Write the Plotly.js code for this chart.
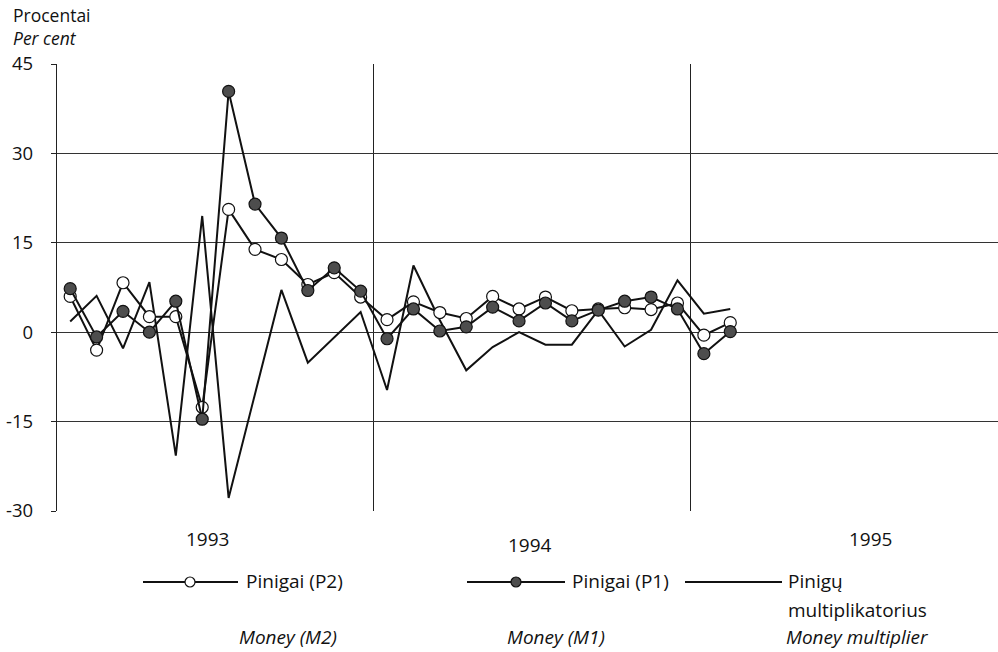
<!DOCTYPE html>
<html>
<head>
<meta charset="utf-8">
<script src="https://cdn.plot.ly/plotly-3.0.1.min.js"></script>
<style>
html,body{margin:0;padding:0;background:#fff;}
#chart{width:998px;height:652px;}
</style>
</head>
<body>
<div id="chart"></div>
<script>
// Monthly data, January 1993 – February 1995 (per cent)
var months = ['1993-01','1993-02','1993-03','1993-04','1993-05','1993-06','1993-07','1993-08','1993-09','1993-10','1993-11','1993-12',
              '1994-01','1994-02','1994-03','1994-04','1994-05','1994-06','1994-07','1994-08','1994-09','1994-10','1994-11','1994-12',
              '1995-01','1995-02'];
var moneyM2 = [6.0, -3.0, 8.3, 2.6, 2.6, -12.6, 20.6, 13.9, 12.2, 8.0, 10.0, 5.9,
               2.1, 5.1, 3.3, 2.3, 6.0, 3.9, 5.9, 3.6, 3.9, 4.1, 3.8, 4.9,
               -0.5, 1.6];
var moneyM1 = [7.3, -0.8, 3.5, 0.0, 5.2, -14.6, 40.4, 21.5, 15.8, 7.0, 10.8, 6.9,
               -1.1, 3.9, 0.2, 0.9, 4.2, 1.9, 4.9, 1.9, 3.7, 5.2, 5.9, 3.9,
               -3.6, 0.1];
var multiplier = [1.8, 6.1, -2.7, 8.4, -20.7, 19.5, -27.8, -10.3, 7.1, -5.1, -0.9, 3.4,
                  -9.7, 11.2, 2.0, -6.4, -2.5, 0.0, -2.1, -2.1, 3.7, -2.4, 0.4, 8.7,
                  3.1, 3.9];
var yearLabels = ['1993', '1994', '1995'];
var yTicks = [-30, -15, 0, 15, 30, 45];
var legendNames = ['Pinigai (P2)', 'Pinigai (P1)', 'Pinigų'];
var legendNames2 = ['', '', 'multiplikatorius'];
var legendNamesEn = ['Money (M2)', 'Money (M1)', 'Money multiplier'];
var yTitleLt = 'Procentai';
var yTitleEn = 'Per cent';

var idx = months.map(function (m, i) { return i; });

var FONT = 'Open Sans, Noto Sans, sans-serif';
var FS = 19;
var L = 57, T = 64, B = 511; // plot edges (px)

var traces = [
  {x: idx, y: multiplier, type: 'scatter', mode: 'lines',
   line: {color: '#111', width: 2}, showlegend: false},
  {x: idx, y: moneyM2, type: 'scatter', mode: 'lines+markers',
   line: {color: '#111', width: 2},
   marker: {symbol: 'circle', size: 12, color: '#fff', line: {color: '#111', width: 1.2}},
   showlegend: false},
  {x: idx, y: moneyM1, type: 'scatter', mode: 'lines+markers',
   line: {color: '#111', width: 2},
   marker: {symbol: 'circle', size: 12, color: '#4d4d4d', line: {color: '#111', width: 1.2}},
   showlegend: false}
];

function px(x) { return x - L; }        // pixel offset from plot left

var annotations = [];
var shapes = [];

function textAt(text, x, y, anchor) {
  annotations.push({text: text, xref: 'paper', x: 0, xshift: px(x), xanchor: anchor || 'left',
    yref: 'paper', y: 0, yshift: -(y - B), yanchor: 'middle', align: 'left', showarrow: false,
    font: {family: FONT, size: FS, color: '#111'}});
}

// Year labels (positioned within each year of 12 months)
var yearX = [5.2, 17.4, 30.3];
var yearY = [539, 545, 539];
yearLabels.forEach(function (t, i) {
  annotations.push({text: t, xref: 'x', x: yearX[i], yref: 'paper', y: 0,
    yshift: -(yearY[i] - B), xanchor: 'center', yanchor: 'middle', showarrow: false,
    font: {family: FONT, size: FS, color: '#111'}});
});

// y-axis titles
annotations.push({text: yTitleLt, xref: 'paper', x: 0, xshift: 12 - L, xanchor: 'left',
  yref: 'paper', y: 1, yshift: T - 15, yanchor: 'middle', showarrow: false, borderpad: 0,
  font: {family: FONT, size: 17.5, color: '#111'}});
annotations.push({text: '<i>' + yTitleEn + '</i>', xref: 'paper', x: 0, xshift: 12 - L, xanchor: 'left',
  yref: 'paper', y: 1, yshift: T - 38, yanchor: 'middle', showarrow: false, borderpad: 0,
  font: {family: FONT, size: 17.5, color: '#111'}});

// Custom legend
var legY = 582;
var leg = [
  {x0: 143, x1: 238, sym: 190, fill: '#fff', tx: 244, en: 288, enAnchor: 'center'},
  {x0: 467, x1: 565, sym: 516, fill: '#4d4d4d', tx: 570, en: 556, enAnchor: 'center'},
  {x0: 685, x1: 782, sym: null, fill: null, tx: 786, en: 784, enAnchor: 'left'}
];
leg.forEach(function (g, i) {
  shapes.push({type: 'line', xref: 'paper', xsizemode: 'pixel', xanchor: 0,
    x0: px(g.x0), x1: px(g.x1), yref: 'paper', ysizemode: 'pixel', yanchor: 0,
    y0: -(legY - B), y1: -(legY - B), line: {color: '#111', width: 2}});
  if (g.sym !== null) {
    shapes.push({type: 'circle', xref: 'paper', xsizemode: 'pixel', xanchor: 0,
      x0: px(g.sym) - 5, x1: px(g.sym) + 5, yref: 'paper', ysizemode: 'pixel', yanchor: 0,
      y0: -(legY - B) - 5, y1: -(legY - B) + 5, fillcolor: g.fill,
      line: {color: '#111', width: 1.2}});
  }
  textAt(legendNames[i], g.tx, legY - 1);
  if (legendNames2[i]) textAt(legendNames2[i], g.tx, 610);
  textAt('<i>' + legendNamesEn[i] + '</i>', g.en, 637, g.enAnchor);
});

var layout = {
  width: 998, height: 652,
  margin: {l: L, r: 0, t: T, b: 652 - B, pad: 0},
  paper_bgcolor: '#fff', plot_bgcolor: '#fff',
  showlegend: false,
  xaxis: {range: [-0.5, 35.14], tickmode: 'array', tickvals: [11.5, 23.5], showticklabels: false,
    ticks: '', showgrid: true, gridcolor: '#222', gridwidth: 1, zeroline: false,
    showline: false, fixedrange: true},
  yaxis: {range: [-30, 45], tickmode: 'array', tickvals: yTicks, ticktext: yTicks.map(String),
    ticks: 'outside', ticklen: 5, tickcolor: '#222', ticklabelstandoff: 14,
    showgrid: true, gridcolor: '#333', gridwidth: 1, zeroline: true, zerolinecolor: '#333', zerolinewidth: 1.2,
    showline: true, linecolor: '#222', linewidth: 1.2,
    tickfont: {family: FONT, size: 18.5, color: '#111'}, fixedrange: true},
  annotations: annotations,
  shapes: shapes,
  font: {family: FONT, color: '#111'}
};

Plotly.newPlot('chart', traces, layout, {staticPlot: true, displayModeBar: false});
</script>
</body>
</html>
